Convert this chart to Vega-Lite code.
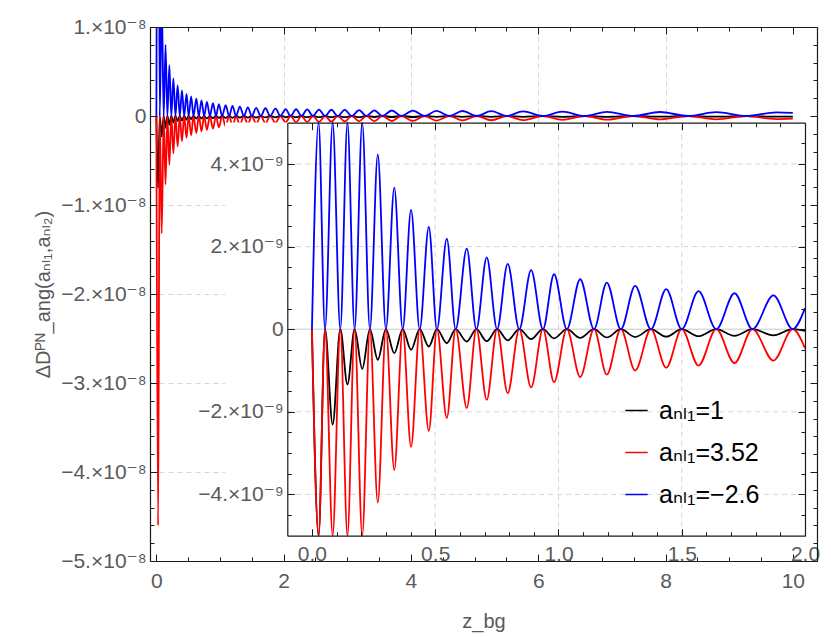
{
  "$schema": "https://vega.github.io/schema/vega-lite/v6.json",
  "width": 667,
  "height": 534,
  "autosize": {"type": "none"},
  "padding": {"left": 150, "top": 27, "right": 14, "bottom": 76},
  "background": "white",
  "config": {
    "font": "Liberation Sans, DejaVu Sans",
    "view": {"stroke": null},
    "axis": {
      "labelFont": "Liberation Sans, DejaVu Sans",
      "labelFontSize": 21,
      "labelColor": "#5a5a5a",
      "labelFlush": false,
      "labelOverlap": false,
      "domainColor": "#1a1a1a",
      "domainWidth": 1.2,
      "tickColor": "#1a1a1a",
      "tickWidth": 1,
      "gridColor": "#d6d6d6",
      "gridDash": [5, 4],
      "gridWidth": 1,
      "titleFont": "Liberation Sans, DejaVu Sans",
      "titleFontWeight": "normal",
      "titleColor": "#5a5a5a",
      "titleFontSize": 20
    }
  },
  "data": {
    "values": [
      {"z": 0, "k": 0, "r": 0, "b": 0},
      {"z": 0.027, "k": -8.1e-9, "r": -4.6e-8, "b": 4.7e-8},
      {"z": 0.053, "k": 0, "r": 0, "b": 0},
      {"z": 0.084, "k": -2.31e-9, "r": -1.32e-8, "b": 1.35e-8},
      {"z": 0.115, "k": 0, "r": 0, "b": 0},
      {"z": 0.144, "k": -1.34e-9, "r": -7.7e-9, "b": 8.0e-9},
      {"z": 0.173, "k": 0, "r": 0, "b": 0},
      {"z": 0.204, "k": -9.6e-10, "r": -5.5e-9, "b": 5.7e-9},
      {"z": 0.235, "k": 0, "r": 0, "b": 0},
      {"z": 0.267, "k": -7.4e-10, "r": -4.2e-9, "b": 4.23e-9},
      {"z": 0.3, "k": 0, "r": 0, "b": 0},
      {"z": 0.334, "k": -5.8e-10, "r": -3.41e-9, "b": 3.43e-9},
      {"z": 0.368, "k": 0, "r": 0, "b": 0},
      {"z": 0.402, "k": -5.0e-10, "r": -2.85e-9, "b": 2.89e-9},
      {"z": 0.437, "k": 0, "r": 0, "b": 0},
      {"z": 0.474, "k": -4.2e-10, "r": -2.46e-9, "b": 2.48e-9},
      {"z": 0.507, "k": 0, "r": 0, "b": 0},
      {"z": 0.547, "k": -3.4e-10, "r": -2.15e-9, "b": 2.19e-9},
      {"z": 0.583, "k": 0, "r": 0, "b": 0},
      {"z": 0.628, "k": -3.0e-10, "r": -1.91e-9, "b": 1.95e-9},
      {"z": 0.667, "k": 0, "r": 0, "b": 0},
      {"z": 0.709, "k": -2.9e-10, "r": -1.71e-9, "b": 1.74e-9},
      {"z": 0.751, "k": 0, "r": 0, "b": 0},
      {"z": 0.794, "k": -2.7e-10, "r": -1.55e-9, "b": 1.58e-9},
      {"z": 0.841, "k": 0, "r": 0, "b": 0},
      {"z": 0.889, "k": -2.4e-10, "r": -1.41e-9, "b": 1.43e-9},
      {"z": 0.937, "k": 0, "r": 0, "b": 0},
      {"z": 0.982, "k": -2.2e-10, "r": -1.28e-9, "b": 1.33e-9},
      {"z": 1.034, "k": 0, "r": 0, "b": 0},
      {"z": 1.088, "k": -2.1e-10, "r": -1.16e-9, "b": 1.21e-9},
      {"z": 1.144, "k": 0, "r": 0, "b": 0},
      {"z": 1.196, "k": -2.0e-10, "r": -1.10e-9, "b": 1.13e-9},
      {"z": 1.253, "k": 0, "r": 0, "b": 0},
      {"z": 1.311, "k": -1.9e-10, "r": -1.0e-9, "b": 1.05e-9},
      {"z": 1.375, "k": 0, "r": 0, "b": 0},
      {"z": 1.437, "k": -1.8e-10, "r": -9.3e-10, "b": 9.7e-10},
      {"z": 1.5, "k": 0, "r": 0, "b": 0},
      {"z": 1.568, "k": -1.7e-10, "r": -8.8e-10, "b": 9.2e-10},
      {"z": 1.64, "k": 0, "r": 0, "b": 0},
      {"z": 1.714, "k": -1.6e-10, "r": -8.2e-10, "b": 8.7e-10},
      {"z": 1.787, "k": 0, "r": 0, "b": 0},
      {"z": 1.872, "k": -1.5e-10, "r": -7.6e-10, "b": 8.2e-10},
      {"z": 1.95, "k": 0, "r": 0, "b": 0},
      {"z": 2.0, "k": -4e-11, "r": -4.6e-10, "b": 5.1e-10},
      {"z": 2.03, "k": -1.4e-10, "r": -7.2e-10, "b": 7.8e-10},
      {"z": 2.11, "k": 0, "r": 0, "b": 0},
      {"z": 2.195, "k": -1.4e-10, "r": -7.0e-10, "b": 7.6e-10},
      {"z": 2.28, "k": 0, "r": 0, "b": 0},
      {"z": 2.37, "k": -1.3e-10, "r": -6.8e-10, "b": 7.4e-10},
      {"z": 2.46, "k": 0, "r": 0, "b": 0},
      {"z": 2.555, "k": -1.3e-10, "r": -6.6e-10, "b": 7.2e-10},
      {"z": 2.65, "k": 0, "r": 0, "b": 0},
      {"z": 2.75, "k": -1.2e-10, "r": -6.4e-10, "b": 7.0e-10},
      {"z": 2.85, "k": 0, "r": 0, "b": 0},
      {"z": 2.96, "k": -1.2e-10, "r": -6.2e-10, "b": 6.8e-10},
      {"z": 3.07, "k": 0, "r": 0, "b": 0},
      {"z": 3.185, "k": -1.2e-10, "r": -6.0e-10, "b": 6.6e-10},
      {"z": 3.3, "k": 0, "r": 0, "b": 0},
      {"z": 3.425, "k": -1.1e-10, "r": -5.8e-10, "b": 6.4e-10},
      {"z": 3.55, "k": 0, "r": 0, "b": 0},
      {"z": 3.7, "k": -1.1e-10, "r": -5.6e-10, "b": 6.2e-10},
      {"z": 3.85, "k": 0, "r": 0, "b": 0},
      {"z": 4.03, "k": -1.1e-10, "r": -5.4e-10, "b": 6.0e-10},
      {"z": 4.215, "k": 0, "r": 0, "b": 0},
      {"z": 4.4, "k": -1.0e-10, "r": -5.2e-10, "b": 5.8e-10},
      {"z": 4.605, "k": 0, "r": 0, "b": 0},
      {"z": 4.81, "k": -1.0e-10, "r": -5.0e-10, "b": 5.6e-10},
      {"z": 5.035, "k": 0, "r": 0, "b": 0},
      {"z": 5.26, "k": -1.0e-10, "r": -4.8e-10, "b": 5.4e-10},
      {"z": 5.51, "k": 0, "r": 0, "b": 0},
      {"z": 5.76, "k": -9e-11, "r": -4.6e-10, "b": 5.2e-10},
      {"z": 6.07, "k": 0, "r": 0, "b": 0},
      {"z": 6.38, "k": -9e-11, "r": -4.4e-10, "b": 5.0e-10},
      {"z": 6.73, "k": 0, "r": 0, "b": 0},
      {"z": 7.08, "k": -9e-11, "r": -4.1e-10, "b": 4.7e-10},
      {"z": 7.495, "k": 0, "r": 0, "b": 0},
      {"z": 7.91, "k": -8e-11, "r": -3.9e-10, "b": 4.5e-10},
      {"z": 8.355, "k": 0, "r": 0, "b": 0},
      {"z": 8.8, "k": -8e-11, "r": -3.7e-10, "b": 4.3e-10},
      {"z": 9.27, "k": 0, "r": 0, "b": 0},
      {"z": 9.74, "k": -8e-11, "r": -3.5e-10, "b": 4.1e-10},
      {"z": 10.0, "k": -7e-11, "r": -3.0e-10, "b": 3.5e-10}
    ]
  },
  "transform": [{"fold": ["k", "r", "b"], "as": ["key", "v"]}],
  "resolve": {"scale": {"x": "independent", "y": "independent"}, "axis": {"x": "independent", "y": "independent"}},
  "layer": [
    {
      "mark": {"type": "line", "interpolate": "monotone", "clip": true, "strokeWidth": 1.8},
      "encoding": {
        "x": {"field": "z", "type": "quantitative",
              "scale": {"domain": [-0.1, 10.38], "nice": false, "zero": false},
              "axis": {"orient": "bottom", "values": [2, 4, 6, 8], "grid": true, "domain": false, "ticks": false, "labels": false, "title": null, "zindex": 0}},
        "y": {"field": "v", "type": "quantitative",
              "scale": {"domain": [-5e-8, 1e-8], "nice": false, "zero": false},
              "axis": {"orient": "left", "values": [-4e-8, -3e-8, -2e-8, -1e-8], "grid": true, "domain": false, "ticks": false, "labels": false, "title": null, "zindex": 0}},
        "color": {"field": "key", "type": "nominal",
                  "scale": {"domain": ["k", "r", "b"], "range": ["#000000", "#ff0000", "#0000ff"]},
                  "legend": {"orient": "none", "legendX": 474, "legendY": 371, "title": null, "padding": 0,
                             "symbolType": "stroke", "symbolSize": 500, "symbolStrokeWidth": 1.5,
                             "labelFontSize": 25, "labelColor": "#000000", "labelFont": "Liberation Sans, DejaVu Sans",
                             "labelOffset": 10, "rowPadding": 16,
                             "labelExpr": "datum.value == 'k' ? 'aₙₗ₁=1' : datum.value == 'r' ? 'aₙₗ₁=3.52' : 'aₙₗ₁=−2.6'"}}
      }
    },
    {
      "data": {"values": [{}]},
      "mark": {"type": "rect", "fill": "white", "strokeWidth": 0},
      "encoding": {
        "x": {"datum": 1.078, "type": "quantitative",
              "scale": {"domain": [-0.1, 10.38], "nice": false, "zero": false},
              "axis": {"orient": "bottom", "values": [0, 2, 4, 6, 8, 10], "format": "d", "grid": false, "tickSize": -7, "labelPadding": 16, "zindex": 1, "title": "z_bg", "titlePadding": 20}},
        "x2": {"datum": 10.35},
        "y": {"datum": -7.4e-10, "type": "quantitative",
              "scale": {"domain": [-5e-8, 1e-8], "nice": false, "zero": false},
              "axis": {"orient": "left", "values": [-5e-8, -4e-8, -3e-8, -2e-8, -1e-8, 0, 1e-8], "grid": false, "tickSize": -7, "labelPadding": 11, "zindex": 1,
                       "labelExpr": "datum.value == 0 ? '0' : (datum.value < 0 ? '−' : '') + format(abs(datum.value) * 1e8, 'd') + '.×10⁻⁸'",
                       "title": "ΔDᴾᴺ_ang(aₙₗ₁,aₙₗ₂)", "titlePadding": 7}},
        "y2": {"datum": -4.955e-8}
      }
    },
    {
      "data": {"values": [{}]},
      "mark": {"type": "point", "opacity": 0},
      "encoding": {
        "x": {"datum": 1, "type": "quantitative",
              "scale": {"domain": [-0.1, 10.38], "nice": false, "zero": false},
              "axis": {"orient": "bottom", "values": [0.5, 1, 1.5, 2.5, 3, 3.5, 4.5, 5, 5.5, 6.5, 7, 7.5, 8.5, 9, 9.5], "grid": false, "domain": false, "labels": false, "tickSize": -4, "title": null, "zindex": 1}},
        "y": {"datum": 0, "type": "quantitative",
              "scale": {"domain": [-5e-8, 1e-8], "nice": false, "zero": false},
              "axis": {"orient": "left", "values": [-4.8e-8, -4.6e-8, -4.4e-8, -4.2e-8, -3.8e-8, -3.6e-8, -3.4e-8, -3.2e-8, -2.8e-8, -2.6e-8, -2.4e-8, -2.2e-8, -1.8e-8, -1.6e-8, -1.4e-8, -1.2e-8, -8e-9, -6e-9, -4e-9, -2e-9, 2e-9, 4e-9, 6e-9, 8e-9], "grid": false, "domain": false, "labels": false, "tickSize": -4, "title": null, "zindex": 1}}
      }
    },
    {
      "data": {"values": [{}]},
      "mark": {"type": "point", "opacity": 0},
      "encoding": {
        "x": {"datum": 1, "type": "quantitative",
              "scale": {"domain": [-0.1, 10.38], "nice": false, "zero": false},
              "axis": {"orient": "top", "values": [0, 2, 4, 6, 8, 10], "grid": false, "labels": false, "tickSize": -7, "title": null, "zindex": 1}},
        "y": {"datum": 0, "type": "quantitative",
              "scale": {"domain": [-5e-8, 1e-8], "nice": false, "zero": false},
              "axis": {"orient": "right", "values": [-5e-8, -4e-8, -3e-8, -2e-8, -1e-8, 0, 1e-8], "grid": false, "labels": false, "tickSize": -7, "title": null, "zindex": 1}}
      }
    },
    {
      "data": {"values": [{}]},
      "mark": {"type": "point", "opacity": 0},
      "encoding": {
        "x": {"datum": 1, "type": "quantitative",
              "scale": {"domain": [-0.1, 10.38], "nice": false, "zero": false},
              "axis": {"orient": "top", "values": [0.5, 1, 1.5, 2.5, 3, 3.5, 4.5, 5, 5.5, 6.5, 7, 7.5, 8.5, 9, 9.5], "grid": false, "domain": false, "labels": false, "tickSize": -4, "title": null, "zindex": 1}},
        "y": {"datum": 0, "type": "quantitative",
              "scale": {"domain": [-5e-8, 1e-8], "nice": false, "zero": false},
              "axis": {"orient": "right", "values": [-4.8e-8, -4.6e-8, -4.4e-8, -4.2e-8, -3.8e-8, -3.6e-8, -3.4e-8, -3.2e-8, -2.8e-8, -2.6e-8, -2.4e-8, -2.2e-8, -1.8e-8, -1.6e-8, -1.4e-8, -1.2e-8, -8e-9, -6e-9, -4e-9, -2e-9, 2e-9, 4e-9, 6e-9, 8e-9], "grid": false, "domain": false, "labels": false, "tickSize": -4, "title": null, "zindex": 1}}
      }
    },
    {
      "data": {"values": [{"g": 0.5}, {"g": 1.0}, {"g": 1.5}]},
      "mark": {"type": "rule", "color": "#d6d6d6", "strokeWidth": 1, "strokeDash": [5, 4]},
      "encoding": {
        "x": {"field": "g", "type": "quantitative",
              "scale": {"domain": [-0.1, 2.0], "range": [137.3, 655], "nice": false, "zero": false},
              "axis": null},
        "y": {"datum": -5e-9, "type": "quantitative",
              "scale": {"domain": [-5e-9, 5e-9], "range": [508.7, 95.7], "nice": false, "zero": false},
              "axis": null},
        "y2": {"datum": 5e-9}
      }
    },
    {
      "data": {"values": [{"h": -4e-9}, {"h": -2e-9}, {"h": 2e-9}, {"h": 4e-9}]},
      "mark": {"type": "rule", "color": "#d6d6d6", "strokeWidth": 1, "strokeDash": [5, 4]},
      "encoding": {
        "x": {"datum": -0.1, "type": "quantitative",
              "scale": {"domain": [-0.1, 2.0], "range": [137.3, 655], "nice": false, "zero": false},
              "axis": null},
        "x2": {"datum": 2.0},
        "y": {"field": "h", "type": "quantitative",
              "scale": {"domain": [-5e-9, 5e-9], "range": [508.7, 95.7], "nice": false, "zero": false},
              "axis": null}
      }
    },
    {
      "data": {"values": [{}]},
      "mark": {"type": "rule", "color": "#c8c8c8", "strokeWidth": 1},
      "encoding": {
        "x": {"datum": -0.1, "type": "quantitative",
              "scale": {"domain": [-0.1, 2.0], "range": [137.3, 655], "nice": false, "zero": false, "clamp": true},
              "axis": {"orient": "bottom", "offset": -25.3, "values": [0, 0.5, 1, 1.5, 2], "format": ".1f", "grid": false, "tickSize": -7, "labelPadding": 15, "title": null, "zindex": 1}},
        "x2": {"datum": 2.0},
        "y": {"datum": 0, "type": "quantitative",
              "scale": {"domain": [-5e-9, 5e-9], "range": [508.7, 95.7], "nice": false, "zero": false, "clamp": true},
              "axis": {"orient": "left", "offset": -137.3, "values": [-4e-9, -2e-9, 0, 2e-9, 4e-9], "grid": false, "tickSize": -7, "labelPadding": 11, "title": null, "zindex": 1,
                       "labelExpr": "datum.value == 0 ? '0' : (datum.value < 0 ? '−' : '') + format(abs(datum.value) * 1e9, 'd') + '.×10⁻⁹'"}}
      }
    },
    {
      "transform": [{"filter": "datum.z <= 2.0"}],
      "mark": {"type": "line", "interpolate": "monotone", "strokeWidth": 1.8},
      "encoding": {
        "x": {"field": "z", "type": "quantitative",
              "scale": {"domain": [-0.1, 2.0], "range": [137.3, 655], "nice": false, "zero": false, "clamp": true},
              "axis": null},
        "y": {"field": "v", "type": "quantitative",
              "scale": {"domain": [-5e-9, 5e-9], "range": [508.7, 95.7], "nice": false, "zero": false, "clamp": true},
              "axis": null},
        "color": {"field": "key", "type": "nominal",
                  "scale": {"domain": ["k", "r", "b"], "range": ["#000000", "#ff0000", "#0000ff"]},
                  "legend": null}
      }
    },
    {
      "data": {"values": [{}]},
      "mark": {"type": "point", "opacity": 0},
      "encoding": {
        "x": {"datum": 1, "type": "quantitative",
              "scale": {"domain": [-0.1, 2.0], "range": [137.3, 655], "nice": false, "zero": false},
              "axis": {"orient": "bottom", "offset": -25.3, "values": [0.1, 0.2, 0.3, 0.4, 0.6, 0.7, 0.8, 0.9, 1.1, 1.2, 1.3, 1.4, 1.6, 1.7, 1.8, 1.9], "grid": false, "domain": false, "labels": false, "tickSize": -4, "title": null, "zindex": 1}},
        "y": {"datum": 0, "type": "quantitative",
              "scale": {"domain": [-5e-9, 5e-9], "range": [508.7, 95.7], "nice": false, "zero": false},
              "axis": {"orient": "left", "offset": -137.3, "values": [-4.5e-9, -3.5e-9, -3e-9, -2.5e-9, -1.5e-9, -1e-9, -5e-10, 5e-10, 1e-9, 1.5e-9, 2.5e-9, 3e-9, 3.5e-9, 4.5e-9], "grid": false, "domain": false, "labels": false, "tickSize": -4, "title": null, "zindex": 1}}
      }
    },
    {
      "data": {"values": [{}]},
      "mark": {"type": "point", "opacity": 0},
      "encoding": {
        "x": {"datum": 1, "type": "quantitative",
              "scale": {"domain": [-0.1, 2.0], "range": [137.3, 655], "nice": false, "zero": false},
              "axis": {"orient": "top", "offset": -95.7, "values": [0, 0.5, 1, 1.5, 2], "grid": false, "labels": false, "tickSize": -7, "title": null, "zindex": 1}},
        "y": {"datum": 0, "type": "quantitative",
              "scale": {"domain": [-5e-9, 5e-9], "range": [508.7, 95.7], "nice": false, "zero": false},
              "axis": {"orient": "right", "offset": -12, "values": [-4e-9, -2e-9, 0, 2e-9, 4e-9], "grid": false, "labels": false, "tickSize": -7, "title": null, "zindex": 1}}
      }
    },
    {
      "data": {"values": [{}]},
      "mark": {"type": "point", "opacity": 0},
      "encoding": {
        "x": {"datum": 1, "type": "quantitative",
              "scale": {"domain": [-0.1, 2.0], "range": [137.3, 655], "nice": false, "zero": false},
              "axis": {"orient": "top", "offset": -95.7, "values": [0.1, 0.2, 0.3, 0.4, 0.6, 0.7, 0.8, 0.9, 1.1, 1.2, 1.3, 1.4, 1.6, 1.7, 1.8, 1.9], "grid": false, "domain": false, "labels": false, "tickSize": -4, "title": null, "zindex": 1}},
        "y": {"datum": 0, "type": "quantitative",
              "scale": {"domain": [-5e-9, 5e-9], "range": [508.7, 95.7], "nice": false, "zero": false},
              "axis": {"orient": "right", "offset": -12, "values": [-4.5e-9, -3.5e-9, -3e-9, -2.5e-9, -1.5e-9, -1e-9, -5e-10, 5e-10, 1e-9, 1.5e-9, 2.5e-9, 3e-9, 3.5e-9, 4.5e-9], "grid": false, "domain": false, "labels": false, "tickSize": -4, "title": null, "zindex": 1}}
      }
    }
  ]
}
